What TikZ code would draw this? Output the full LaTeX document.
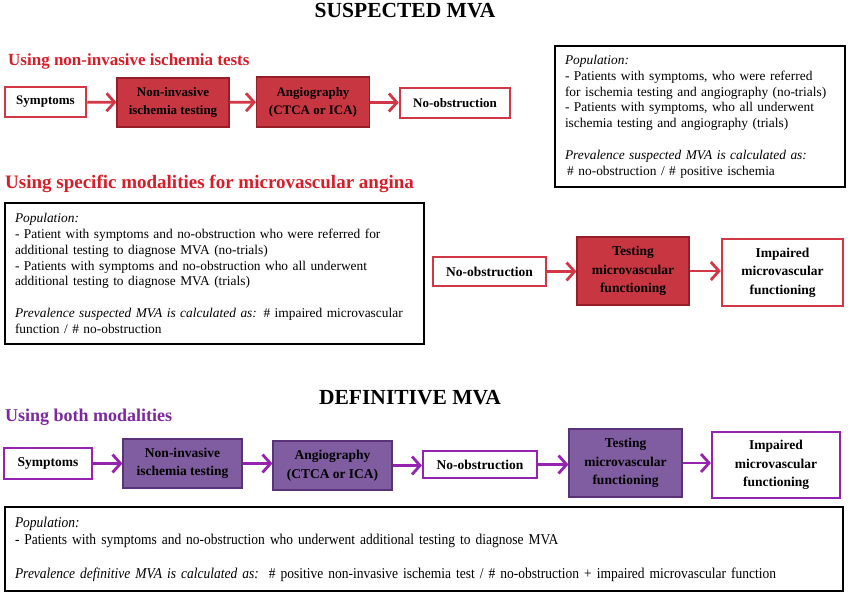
\documentclass[tikz,border=0pt]{standalone}
\usepackage{fontspec}
\setmainfont{Liberation Serif}
\newfontfamily\condfont[FakeStretch=0.9]{Liberation Serif}
\usetikzlibrary{arrows.meta}
\definecolor{redfill}{RGB}{200,55,65}
\definecolor{redline}{RGB}{210,55,70}
\definecolor{redborder}{RGB}{150,30,40}
\definecolor{redtext}{RGB}{215,30,40}
\definecolor{purfill}{RGB}{128,92,160}
\definecolor{purborder}{RGB}{90,50,120}
\definecolor{purline}{RGB}{150,35,175}
\definecolor{purtext}{RGB}{125,40,160}
\tikzset{
  box/.style={align=center, inner sep=1pt},
  fa/.style={font=\fontsize{13}{18}\selectfont\bfseries},
  fb/.style={font=\fontsize{13.5}{18.5}\selectfont\bfseries},
  redopen/.style={box, draw=redline, line width=2.5pt, fill=white},
  redfilled/.style={box, draw=redborder, fill=redfill, line width=1.2pt},
  puropen/.style={box, draw=purline, line width=2.2pt, fill=white},
  purfilled/.style={box, draw=purborder, fill=purfill, line width=1.2pt},
  popbox/.style={draw=black, line width=2.5pt, align=left, inner xsep=10pt, inner ysep=2pt,
    font=\fontsize{13.4}{15.8}\selectfont},
  rarrow/.style={draw=redline, line width=2.8pt, -{Straight Barb[length=8pt,width=18pt]}},
  parrow/.style={draw=purline, line width=2.8pt, -{Straight Barb[length=8pt,width=18pt]}},
  title/.style={font=\fontsize{21.5}{24}\selectfont\bfseries, inner sep=0pt},
  heading/.style={anchor=base west, inner sep=0pt},
}
\begin{document}
\begin{tikzpicture}[x=1pt,y=-1pt]
\useasboundingbox[fill=white] (0,0) rectangle (850,596);

% ---------- SUSPECTED MVA ----------
\node[title] (t1) at (405,10.5) {SUSPECTED MVA};
\node[heading, text=redtext, font=\fontsize{17}{20}\selectfont\bfseries] (h1) at (8,66) {Using non-invasive ischemia tests};

\node[redopen, fa, minimum width=81pt, minimum height=30pt] (sym1) at (45.5,102) {Symptoms};
\node[redfilled, fa, minimum width=112pt, minimum height=49pt] (nit1) at (173,102.5) {Non-invasive\\ischemia testing};
\node[redfilled, fa, minimum width=113pt, minimum height=50pt] (ang1) at (313,102) {Angiography\\(CTCA or ICA)};
\node[redopen, fa, minimum width=110pt, minimum height=30pt] (noo1) at (455,103) {No-obstruction};
\draw[rarrow] (sym1) -- (nit1);
\draw[rarrow] (nit1) -- (ang1);
\draw[rarrow] (ang1) -- (noo1);

\node[popbox, text width=270pt, minimum height=141pt] (pop1) at (700,116.5) {%
\textit{Population:}\\
- Patients with symptoms, who were referred\\
for ischemia testing and angiography (no-trials)\\
- Patients with symptoms, who all underwent\\
ischemia testing and angiography (trials)\\[15.8pt]
\textit{Prevalence suspected MVA is calculated as:}\\
\,\# no-obstruction / \# positive ischemia};

\node[heading, text=redtext, font=\fontsize{19}{22}\selectfont\bfseries] (h2) at (5,188) {Using specific modalities for microvascular angina};

\node[popbox, text width=399pt, minimum height=141pt] (pop2) at (214.5,273.5) {%
\textit{Population:}\\
- Patient with symptoms and no-obstruction who were referred for\\
additional testing to diagnose MVA (no-trials)\\
- Patients with symptoms and no-obstruction who all underwent\\
additional testing to diagnose MVA (trials)\\[15.8pt]
\textit{Prevalence suspected MVA is calculated as:} \# impaired microvascular\\
function / \# no-obstruction};

\node[redopen, fb, minimum width=113pt, minimum height=29pt] (noo2) at (489.5,271.5) {No-obstruction};
\node[redfilled, fb, minimum width=112pt, minimum height=68pt] (tmf2) at (633,271) {Testing\\microvascular\\functioning};
\node[redopen, fb, minimum width=121pt, minimum height=67pt] (imp2) at (782.5,272.5) {Impaired\\microvascular\\functioning};
\draw[rarrow] (noo2) -- (noo2 -| tmf2.west);
\draw[rarrow] (tmf2) -- (imp2.west |- tmf2);

% ---------- DEFINITIVE MVA ----------
\node[title] (t2) at (410,397.5) {DEFINITIVE MVA};
\node[heading, text=purtext, font=\fontsize{18}{21}\selectfont\bfseries] (h3) at (5,421) {Using both modalities};

\node[puropen, fb, minimum width=88pt, minimum height=31pt] (sym3) at (48,463.5) {Symptoms};
\node[purfilled, fb, minimum width=119pt, minimum height=49pt] (nit3) at (182.5,463.5) {Non-invasive\\ischemia testing};
\node[purfilled, fb, minimum width=119pt, minimum height=49pt] (ang3) at (332.5,465.5) {Angiography\\(CTCA or ICA)};
\node[puropen, fb, minimum width=114pt, minimum height=27pt] (noo3) at (480,464.5) {No-obstruction};
\node[purfilled, fb, minimum width=113pt, minimum height=68pt] (tmf3) at (625.5,463) {Testing\\microvascular\\functioning};
\node[puropen, fb, minimum width=128pt, minimum height=66pt] (imp3) at (776,465) {Impaired\\microvascular\\functioning};
\draw[parrow] (sym3) -- (sym3 -| nit3.west);
\draw[parrow] (nit3) -- (nit3 -| ang3.west);
\draw[parrow] (ang3) -- (ang3 -| noo3.west);
\draw[parrow] (noo3) -- (noo3 -| tmf3.west);
\draw[parrow] (tmf3) -- (tmf3 -| imp3.west);

\node[popbox, text width=818pt, minimum height=84pt, font=\condfont\fontsize{15}{17}\selectfont] (pop3) at (424,549) {%
\textit{Population:}\\
- Patients with symptoms and no-obstruction who underwent additional testing to diagnose MVA\\[17pt]
\textit{Prevalence definitive MVA is calculated as:}~~\# positive non-invasive ischemia test / \# no-obstruction + impaired microvascular function};
\end{tikzpicture}
\end{document}
